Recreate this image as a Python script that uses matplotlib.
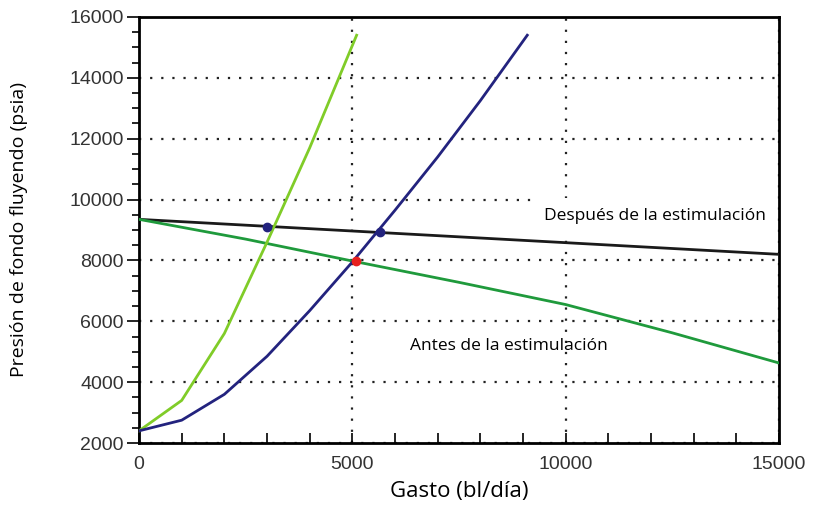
import matplotlib.pyplot as plt
from matplotlib.ticker import MultipleLocator

# curvas de IPR (antes / después de la estimulación)
q_ipr = [0, 2500, 5000, 7500, 10000, 12500, 15000]
p_antes = [9350, 8700, 7980, 7280, 6550, 5620, 4630]
q_desp = [0, 15000]
p_desp = [9350, 8200]

# curvas de la tubería (VLP)
q_vlp1 = [0, 1000, 2000, 3000, 4000, 5100]
p_vlp1 = [2400, 3400, 5600, 8600, 11700, 15400]
q_vlp2 = [0, 1000, 2000, 3000, 4000, 5000, 6000, 7000, 8000, 9100]
p_vlp2 = [2400, 2750, 3600, 4850, 6350, 7950, 9650, 11400, 13250, 15400]

# puntos de operación
q_op_desp = [3000, 5650]
p_op_desp = [9110, 8950]
q_op_antes = [5080]
p_op_antes = [7980]

fig = plt.figure(figsize=(8.15, 5.14), dpi=100)
ax = fig.add_axes([0.1706, 0.1381, 0.7852, 0.8289])

ax.plot(q_desp, p_desp, color='#1a1a1a', lw=2, zorder=3)
ax.plot(q_ipr, p_antes, color='#1f9a3c', lw=2, zorder=3)
ax.plot(q_vlp1, p_vlp1, color='#80cc28', lw=2, zorder=3)
ax.plot(q_vlp2, p_vlp2, color='#23237e', lw=2, zorder=3)
ax.plot(q_op_desp, p_op_desp, 'o', color='#23237e', ms=6, zorder=4)
ax.plot(q_op_antes, p_op_antes, 'o', color='#e8201e', ms=6, zorder=4)

ax.set_xlim(0, 15000)
ax.set_ylim(2000, 16000)
ax.xaxis.set_major_locator(MultipleLocator(5000))
ax.xaxis.set_minor_locator(MultipleLocator(1000))
ax.yaxis.set_major_locator(MultipleLocator(2000))
ax.yaxis.set_minor_locator(MultipleLocator(500))
ax.grid(True, which='major', color='#222222', linestyle=(0, (1, 4)), lw=1.6)

ax.tick_params(axis='x', which='both', direction='in', length=7, width=1.2, pad=9)
ax.tick_params(axis='y', which='major', direction='out', length=9, width=1.2, pad=2)
ax.tick_params(axis='y', which='minor', direction='out', length=5, width=1.2)
for lbl in ax.get_xticklabels() + ax.get_yticklabels():
    lbl.set_family('Liberation Sans')
    lbl.set_fontsize(14)
    lbl.set_color('#333333')
for s in ax.spines.values():
    s.set_linewidth(2)

# recuadro blanco que tapa la rejilla detrás de la etiqueta
ax.text(12100, 9470, 'Después de la estimulación', fontsize=12.5, family='Open Sans',
        ha='center', va='center', zorder=2,
        bbox=dict(facecolor='white', edgecolor='none', boxstyle='square,pad=0.55'))
ax.text(8670, 5200, 'Antes de la estimulación', fontsize=12.5, family='Open Sans',
        ha='center', va='center', zorder=5)

ax.set_xlabel('Gasto (bl/día)', fontsize=16, family='Open Sans', labelpad=6)
ax.set_ylabel('Presión de fondo fluyendo (psia)', fontsize=14, family='Open Sans', labelpad=30)

fig.savefig('out.png', dpi=100)
